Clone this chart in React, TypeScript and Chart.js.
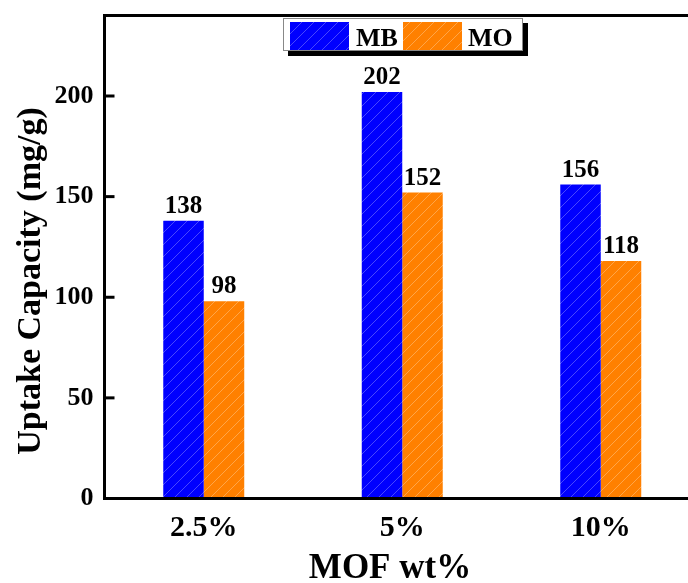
import React, { useEffect, useRef } from 'react';
import { Chart, registerables } from 'chart.js';

Chart.register(...registerables);

const categories = ['2.5%', '5%', '10%'];
const mbValues = [138, 202, 156];
const moValues = [98, 152, 118];
const seriesNames = ['MB', 'MO'];
const yTickValues = [0, 50, 100, 150, 200];
const xTitle = 'MOF wt%';
const yTitle = 'Uptake Capacity (mg/g)';

const FONT = "'Liberation Serif', 'Times New Roman', serif";
const BLUE = '#0000ff';
const ORANGE = '#ff8000';

function makePattern(base: string, line: string): CanvasPattern | string {
  const s = 12;
  const c = document.createElement('canvas');
  c.width = s;
  c.height = s;
  const g = c.getContext('2d');
  if (!g) return base;
  g.fillStyle = base;
  g.fillRect(0, 0, s, s);
  g.strokeStyle = line;
  g.lineWidth = 1;
  g.beginPath();
  g.moveTo(-1, s + 1);
  g.lineTo(s + 1, -1);
  g.moveTo(-2, 2);
  g.lineTo(2, -2);
  g.moveTo(s - 2, s + 2);
  g.lineTo(s + 2, s - 2);
  g.stroke();
  return g.createPattern(c, 'repeat') || base;
}

export default function App() {
  const ref = useRef<HTMLCanvasElement | null>(null);

  useEffect(() => {
    const canvas = ref.current;
    if (!canvas) return;
    const blueFill = makePattern(BLUE, 'rgba(130,130,255,0.55)');
    const orangeFill = makePattern(ORANGE, 'rgba(255,190,120,0.6)');

    const decor = {
      id: 'decor',
      afterDatasetsDraw(chart: any) {
        const { ctx, chartArea: a, scales } = chart;
        const y = scales.y;
        ctx.save();
        ctx.strokeStyle = '#000';
        ctx.lineWidth = 3;
        ctx.lineCap = 'square';
        ctx.lineJoin = 'miter';
        ctx.beginPath();
        ctx.moveTo(a.right + 5, a.top);
        ctx.lineTo(a.left, a.top);
        ctx.lineTo(a.left, a.bottom);
        ctx.lineTo(a.right + 5, a.bottom);
        ctx.stroke();
        ctx.lineCap = 'butt';
        yTickValues.forEach((v) => {
          const py = y.getPixelForValue(v);
          ctx.beginPath();
          ctx.moveTo(a.left, py);
          ctx.lineTo(a.left + 10, py);
          ctx.stroke();
        });

        // value labels
        ctx.fillStyle = '#000';
        ctx.font = `bold 25px ${FONT}`;
        ctx.textAlign = 'center';
        ctx.textBaseline = 'alphabetic';
        chart.data.datasets.forEach((ds: any, i: number) => {
          chart.getDatasetMeta(i).data.forEach((bar: any, j: number) => {
            ctx.fillText(String(ds.data[j]), bar.x, bar.y - 8);
          });
        });

        // legend
        const lx = 283, ly = 18, lw = 240, lh = 33;
        ctx.fillStyle = '#000';
        ctx.fillRect(lx + 5, ly + 5, lw, lh);
        ctx.fillStyle = '#fff';
        ctx.fillRect(lx, ly, lw, lh);
        ctx.strokeStyle = '#888';
        ctx.lineWidth = 1;
        ctx.strokeRect(lx + 0.5, ly + 0.5, lw - 1, lh - 1);
        const fills = [blueFill, orangeFill];
        const swX = [290, 403];
        const txX = [356, 468];
        ctx.font = `bold 26px ${FONT}`;
        ctx.textAlign = 'left';
        ctx.textBaseline = 'alphabetic';
        seriesNames.forEach((name, i) => {
          ctx.fillStyle = fills[i];
          ctx.fillRect(swX[i], 22, 59, 28);
          ctx.fillStyle = '#000';
          ctx.fillText(name, txX[i], 46);
        });

        // axis titles
        ctx.font = `bold 35px ${FONT}`;
        ctx.textAlign = 'center';
        ctx.fillText(xTitle, 390, 578);
        ctx.save();
        ctx.translate(40, 281);
        ctx.rotate(-Math.PI / 2);
        ctx.font = `bold 34px ${FONT}`;
        ctx.textBaseline = 'alphabetic';
        ctx.fillText(yTitle, 0, 0);
        ctx.restore();
        ctx.restore();
      },
    };

    const chart = new Chart(canvas, {
      type: 'bar',
      data: {
        labels: categories,
        datasets: [
          { label: seriesNames[0], data: mbValues, backgroundColor: blueFill as any, borderWidth: 0 },
          { label: seriesNames[1], data: moValues, backgroundColor: orangeFill as any, borderWidth: 0 },
        ],
      },
      options: {
        responsive: false,
        animation: false,
        devicePixelRatio: 1,
        layout: { padding: { left: 0, top: 15.5, right: 0, bottom: 0 } },
        datasets: { bar: { categoryPercentage: 0.408, barPercentage: 1 } },
        plugins: { legend: { display: false }, tooltip: { enabled: false }, title: { display: false } },
        scales: {
          x: {
            type: 'category',
            grid: { display: false, drawTicks: false },
            border: { display: false },
            ticks: { color: '#000', font: { family: FONT, size: 30, weight: 'bold' }, padding: 12, maxRotation: 0 },
            afterFit: (s: any) => {
              s.height = 84.5;
              s.paddingLeft = 0;
              s.paddingRight = 0;
            },
          },
          y: {
            min: 0,
            max: 240,
            grid: { display: false, drawTicks: false },
            border: { display: false },
            ticks: {
              stepSize: 50,
              includeBounds: false,
              color: '#000',
              font: { family: FONT, size: 26, weight: 'bold' },
              padding: 11,
            } as any,
            afterFit: (s: any) => {
              s.width = 104.5;
              s.paddingTop = 0;
              s.paddingBottom = 0;
            },
          },
        },
      } as any,
      plugins: [decor],
    });
    return () => chart.destroy();
  }, []);

  return (
    <div style={{ position: 'fixed', left: 0, top: 0, width: 688, height: 583, overflow: 'hidden', background: '#fff' }}>
      <canvas ref={ref} width={700} height={583} style={{ display: 'block' }} />
    </div>
  );
}
